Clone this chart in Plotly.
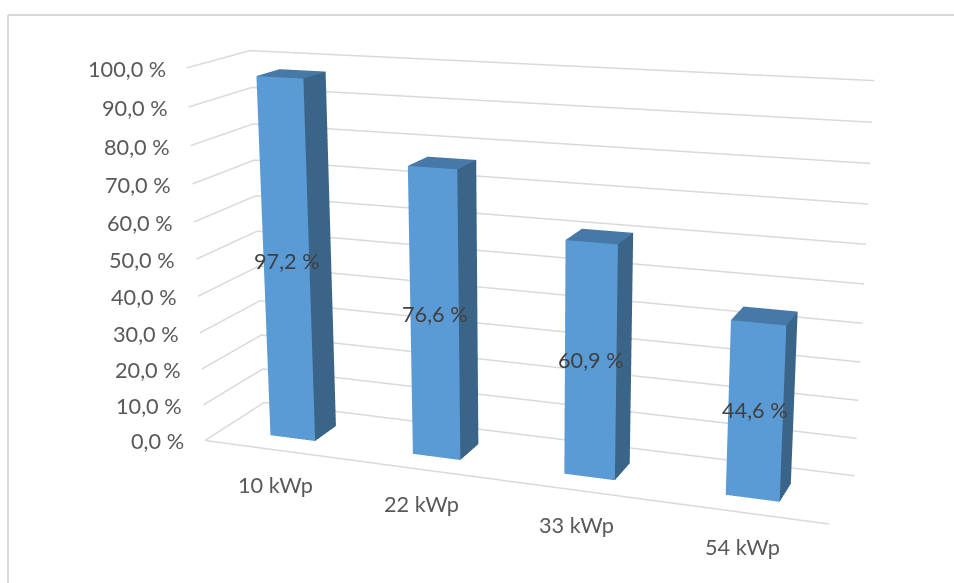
import plotly.graph_objects as go

categories = ["10 kWp", "22 kWp", "33 kWp", "54 kWp"]
values = [97.2, 76.6, 60.9, 44.6]
value_labels = ["97,2 %", "76,6 %", "60,9 %", "44,6 %"]
ticks = [0, 10, 20, 30, 40, 50, 60, 70, 80, 90, 100]
tick_labels = ["0,0 %", "10,0 %", "20,0 %", "30,0 %", "40,0 %", "50,0 %",
               "60,0 %", "70,0 %", "80,0 %", "90,0 %", "100,0 %"]

FONT = "Lato"
GRID = "#D9D9D9"
BAR_WIDTH = 0.32
BAR_DEPTH = 0.38
BAR_MID = 0.48
BAR_SHIFT = 0.008
FOVY = 0.3141  # narrow lens, radians


def grid_line(level):
    # The floor level also carries the front edge; higher levels only run along the two walls.
    if level == 0:
        xs, ys = [4, 0, 0, 4], [0, 0, 1, 1]
    else:
        xs, ys = [0, 0, 4], [0, 1, 1]
    return go.Scatter3d(x=xs, y=ys, z=[level] * len(xs), mode="lines",
                        line=dict(color=GRID, width=3),
                        hoverinfo="skip", showlegend=False)


def column(slot, value):
    # A box with its three visible faces: front, right side and top.
    mid = slot + 0.5 + BAR_SHIFT
    x0, x1 = mid - BAR_WIDTH / 2, mid + BAR_WIDTH / 2
    y0, y1 = BAR_MID - BAR_DEPTH / 2, BAR_MID + BAR_DEPTH / 2
    return go.Mesh3d(
        x=[x0, x1, x1, x0, x0, x1, x1, x0],
        y=[y0, y0, y1, y1, y0, y0, y1, y1],
        z=[0, 0, 0, 0, value, value, value, value],
        i=[0, 0, 1, 1, 4, 4], j=[1, 5, 2, 6, 5, 6], k=[5, 4, 6, 5, 6, 7],
        facecolor=["#5B9BD5"] * 2 + ["#3B6588"] * 2 + ["#4678A8"] * 2,
        flatshading=True,
        lighting=dict(ambient=1, diffuse=0, specular=0, fresnel=0),
        hoverinfo="skip", showscale=False)


traces = [grid_line(t) for t in ticks]
traces += [column(i, v) for i, v in enumerate(values)]

notes = []
for t, label in zip(ticks, tick_labels):
    notes.append(dict(x=0, y=0, z=t, text=label, showarrow=False, xanchor="right",
                      xshift=-19, yshift=-1, font=dict(family=FONT, size=21.7, color="#595959")))
for i, name in enumerate(categories):
    notes.append(dict(x=i + 0.5, y=0, z=0, text=name, showarrow=False, xshift=1, yshift=-35,
                      font=dict(family=FONT, size=21.7, color="#595959")))
for i, (v, label) in enumerate(zip(values, value_labels)):
    notes.append(dict(x=i + 0.5, y=0.3, z=v / 2, text=label, showarrow=False, xshift=1, yshift=1,
                      font=dict(family=FONT, size=21.7, color="#404040")))

fig = go.Figure(traces)
fig.update_layout(
    width=954, height=583, margin=dict(l=0, r=0, t=0, b=0), paper_bgcolor="white",
    showlegend=False,
    scene=dict(
        domain=dict(x=[0, 1], y=[0, 1]),
        dragmode="orbit",
        xaxis=dict(visible=False, range=[0, 4]),
        yaxis=dict(visible=False, range=[0, 1]),
        zaxis=dict(visible=False, range=[0, 100]),
        aspectmode="manual", aspectratio=dict(x=1, y=0.20178, z=0.5984),
        camera=dict(eye=dict(x=0.92761, y=-2.52828, z=0.70024),
                    center=dict(x=-0.05373, y=-0.0407, z=-0.02629),
                    up=dict(x=0.00805, y=0, z=1)),
        annotations=notes),
    shapes=[
        dict(type="line", xref="paper", yref="paper", x0=8 / 954, x1=8 / 954, y0=0, y1=1 - 15 / 583,
             line=dict(color=GRID, width=2)),
        dict(type="line", xref="paper", yref="paper", x0=8 / 954, x1=1, y0=1 - 15 / 583, y1=1 - 15 / 583,
             line=dict(color=GRID, width=2)),
    ])

# Narrow the 3D lens once the scene exists; the scene schema has no field-of-view option.
lens = ("var s=document.getElementById('{plot_id}')._fullLayout.scene._scene;"
        "s.glplot.fovy=" + str(FOVY) + ";s.glplot.redraw();")
fig.write_html("out.html", post_script=lens, config=dict(displayModeBar=False))
